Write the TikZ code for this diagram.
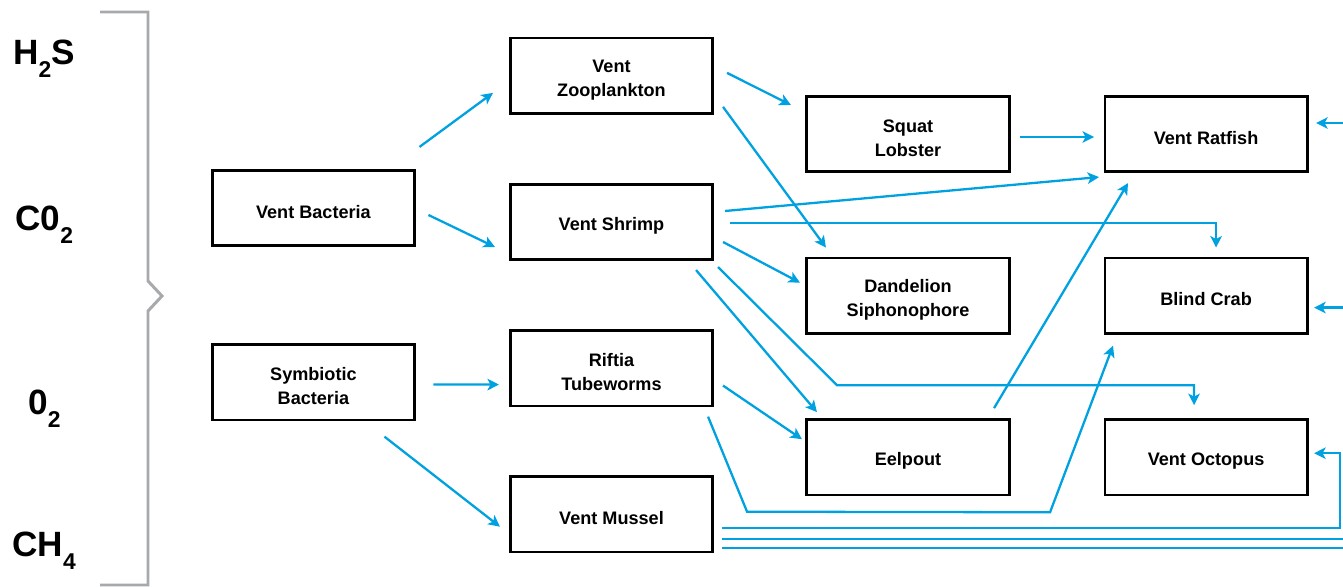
\documentclass[tikz,border=0pt]{standalone}
\usepackage{fontspec}
\setmainfont{Liberation Sans}
\usepackage{tikz}
\usetikzlibrary{arrows.meta,positioning,calc}
\definecolor{ventblue}{RGB}{0,161,224}
\definecolor{bracegray}{RGB}{167,169,172}
\newcommand\gsub[1]{\raisebox{-7pt}{\fontsize{13}{13}\selectfont #1}}

\begin{document}
\begin{tikzpicture}[x=0.02cm, y=-0.02cm,
  node distance=1.36cm and 1.86cm,
  boxtext/.style={inner sep=0pt, align=center, yshift=-2.2pt,
                  font=\fontsize{10.3}{13.6}\selectfont\bfseries},
  box/.style={draw, line width=1.5pt, minimum width=4.05cm, minimum height=1.51cm,
              inner sep=0pt, label={[boxtext]center:#1}},
  gas/.style={anchor=base west, inner sep=0pt, font=\fontsize{20}{20}\selectfont\bfseries},
  arr/.style={-{Stealth[length=2.3mm,width=2.3mm,inset=0.6mm]}, line width=1.3pt, draw=ventblue},
  brace/.style={line width=1.7pt, draw=bracegray}]
  \useasboundingbox (0,0) rectangle (1343,587);
  \clip (0,0) rectangle (1343,587);

  % chemicals and bracket
  \node[gas] (h2s) at (13,65) {H\gsub{2}S};
  \node[gas] (co2) at (15,231) {C0\gsub{2}};
  \node[gas] (o2) at (28,415) {0\gsub{2}};
  \node[gas] (ch4) at (12,557) {CH\gsub{4}};
  \draw[brace] (100,12) -- (148,12) -- (148,281) -- (162,296) -- (148,311) -- (148,585) -- (100,585);

  % food web
  \node[box={Vent Shrimp}] (vs) at (611.5,222) {};
  \node[box={Vent\\Zooplankton}, above=of vs] (vz) {};
  \node[box={Riftia\\Tubeworms}, below=of vs] (rt) {};
  \node[box={Vent Mussel}, below=of rt] (vm) {};
  \node[box={Vent Bacteria}, left=of vs, yshift=2.8mm] (vb) {};
  \node[box={Symbiotic\\Bacteria}, left=of rt, yshift=-2.8mm] (sb) {};
  \node[box={Squat\\Lobster}] (sl) at (908,134) {};
  \node[box={Dandelion\\Siphonophore}, below=1.67cm of sl] (ds) {};
  \node[box={Eelpout}, below=1.67cm of ds] (ep) {};
  \node[box={Vent Ratfish}, right=of sl] (vr) {};
  \node[box={Blind Crab}, right=of ds] (bc) {};
  \node[box={Vent Octopus}, right=of ep] (vo) {};

  \draw[arr] ($(vb.north east)+(3.5,-22)$) -- ($(vz.west)+(-16,17)$);
  \draw[arr] ($(vb.east)+(12.5,7)$) -- ($(vs.west)+(-14,25)$);
  \draw[arr] ($(sb.east)+(17.5,2.5)$) -- ($(rt.west)+(-10,16.5)$);
  \draw[arr] ($(sb.south east)+(-31.5,15.5)$) -- ($(vm.west)+(-9,12.5)$);
  \draw[arr] ($(vz.east)+(13,-3)$) -- ($(sl.west)+(-14.5,-29)$);
  \draw[arr] ($(vz.east)+(9,31)$) -- ($(ds.north west)+(20.5,-9)$);
  \draw[arr] ($(vs.east)+(11,-11)$) -- ($(vr.south west)+(-4.5,4)$);
  \draw[arr] ($(vs.east)+(16,1)$) -| ($(bc.north)+(10,-9)$);
  \draw[arr] ($(vs.east)+(9,20)$) -- ($(ds.west)+(-5.5,-13)$);
  \draw[arr] ($(vs.south east)+(-18,9)$) -- ($(ep.north west)+(11.5,-6)$);
  \draw[arr] ($(vs.south east)+(4,6)$) -- ($(ep.north west)+(31.5,-33)$) -| ($(vo.north)+(-12,-13)$);
  \draw[arr] ($(ep.north east)+(-16.5,-10)$) -- ($(vr.south west)+(24.5,10)$);
  \draw[arr] ($(rt.east)+(9,17.5)$) -- ($(ep.west)+(-3.5,-18)$);
  \draw[arr] ($(rt.south east)+(-6,9.5)$) -- ($(vm.east)+(33,-2.5)$) -- ($(ep.south east)+(39.5,16)$) -- ($(bc.south west)+(9.5,11)$);
  \draw[arr] ($(sl.east)+(9.5,3)$) -- ($(vr.west)+(-9.5,3)$);
  \draw[arr] ($(vm.east)+(8,13.5)$) -| ($(vo.east)+(31.5,-4)$) -- ($(vo.east)+(5.5,-4)$);
  \draw[arr] ($(vm.east)+(8,24.5)$) -| ($(bc.east)+(60,12)$) -- ($(bc.east)+(5.5,12)$);
  \draw[arr] ($(vm.east)+(8,33.5)$) -| ($(vr.east)+(70,-11)$) -- ($(vr.east)+(7.5,-11)$);
\end{tikzpicture}
\end{document}
